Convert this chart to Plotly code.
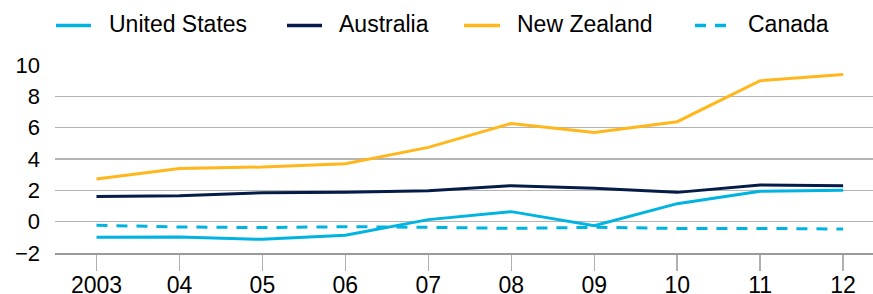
import plotly.graph_objects as go

years = ["2003", "04", "05", "06", "07", "08", "09", "10", "11", "12"]
united_states = [-1.00, -0.98, -1.13, -0.87, 0.13, 0.64, -0.26, 1.15, 1.94, 2.00]
australia = [1.60, 1.66, 1.85, 1.87, 1.98, 2.30, 2.13, 1.87, 2.34, 2.30]
new_zealand = [2.72, 3.40, 3.49, 3.70, 4.74, 6.27, 5.70, 6.38, 9.00, 9.40]
canada = [-0.23, -0.34, -0.38, -0.32, -0.36, -0.43, -0.36, -0.43, -0.43, -0.47]
y_ticks = [-2, 0, 2, 4, 6, 8, 10]

series = [
    ("United States", united_states, "#00B4E2", "solid"),
    ("Australia", australia, "#051C48", "solid"),
    ("New Zealand", new_zealand, "#FFB71B", "solid"),
    ("Canada", canada, "#00B4E2", "11px,9px"),
]

W, H = 873, 294
L, R, T, B = 55, 0, 65, 41
PW, PH = W - L - R, H - T - B

FONT = "Liberation Sans, Arial, Helvetica, sans-serif"

fig = go.Figure()
for name, vals, color, dash in series:
    fig.add_trace(go.Scatter(
        x=years, y=vals, mode="lines", name=name,
        line=dict(color=color, width=3, dash=dash),
        showlegend=False, hoverinfo="skip",
    ))

def px_x(p):
    return (p - L) / PW

def px_y(p):
    return (H - B - p) / PH

# custom legend
leg_line = [(56, 91), (287, 322), (464, 500), (695, 731)]
leg_text = [107, 337, 515, 746]
leg_y = 25.5
shapes = []
annotations = []
for (name, vals, color, dash), (x0, x1), tx in zip(series, leg_line, leg_text):
    shapes.append(dict(
        type="line", xref="paper", yref="paper",
        x0=px_x(x0), x1=px_x(x1), y0=px_y(leg_y), y1=px_y(leg_y),
        line=dict(color=color, width=3.5, dash=dash),
    ))
    annotations.append(dict(
        text=name, xref="paper", yref="paper", x=px_x(tx), y=px_y(leg_y - 1),
        xanchor="left", yanchor="middle", showarrow=False,
        font=dict(family=FONT, size=23, color="#000"),
    ))

fig.update_layout(
    width=W, height=H,
    margin=dict(l=L, r=R, t=T, b=B, pad=0),
    paper_bgcolor="white", plot_bgcolor="white",
    font=dict(family=FONT, size=23, color="#000"),
    shapes=shapes, annotations=annotations,
    showlegend=False,
)
fig.update_xaxes(
    type="category", range=[-0.5, 9.36],
    tickvals=years, ticktext=years,
    showgrid=False, zeroline=False,
    showline=True, linecolor="#9a9a9a", linewidth=2,
    ticks="outside", ticklen=16, tickwidth=1.5, tickcolor="#b0b0b0",
    ticklabelstandoff=-6, automargin=False,
    tickfont=dict(family=FONT, size=23, color="#000"),
)
fig.update_yaxes(
    range=[-2, 10], tickvals=y_ticks,
    ticktext=[("\u2212" + str(abs(v))) if v < 0 else str(v) for v in y_ticks],
    showgrid=True, gridcolor="#b4b4b4", gridwidth=1.5,
    zeroline=False, showline=False, ticks="",
    ticklabelstandoff=14, automargin=False,
    tickfont=dict(family=FONT, size=22, color="#000"),
)

fig.write_html(
    "out.html",
    config={"displayModeBar": False, "staticPlot": True},
    post_script="document.body.style.margin='0';document.body.style.overflow='hidden';",
)
